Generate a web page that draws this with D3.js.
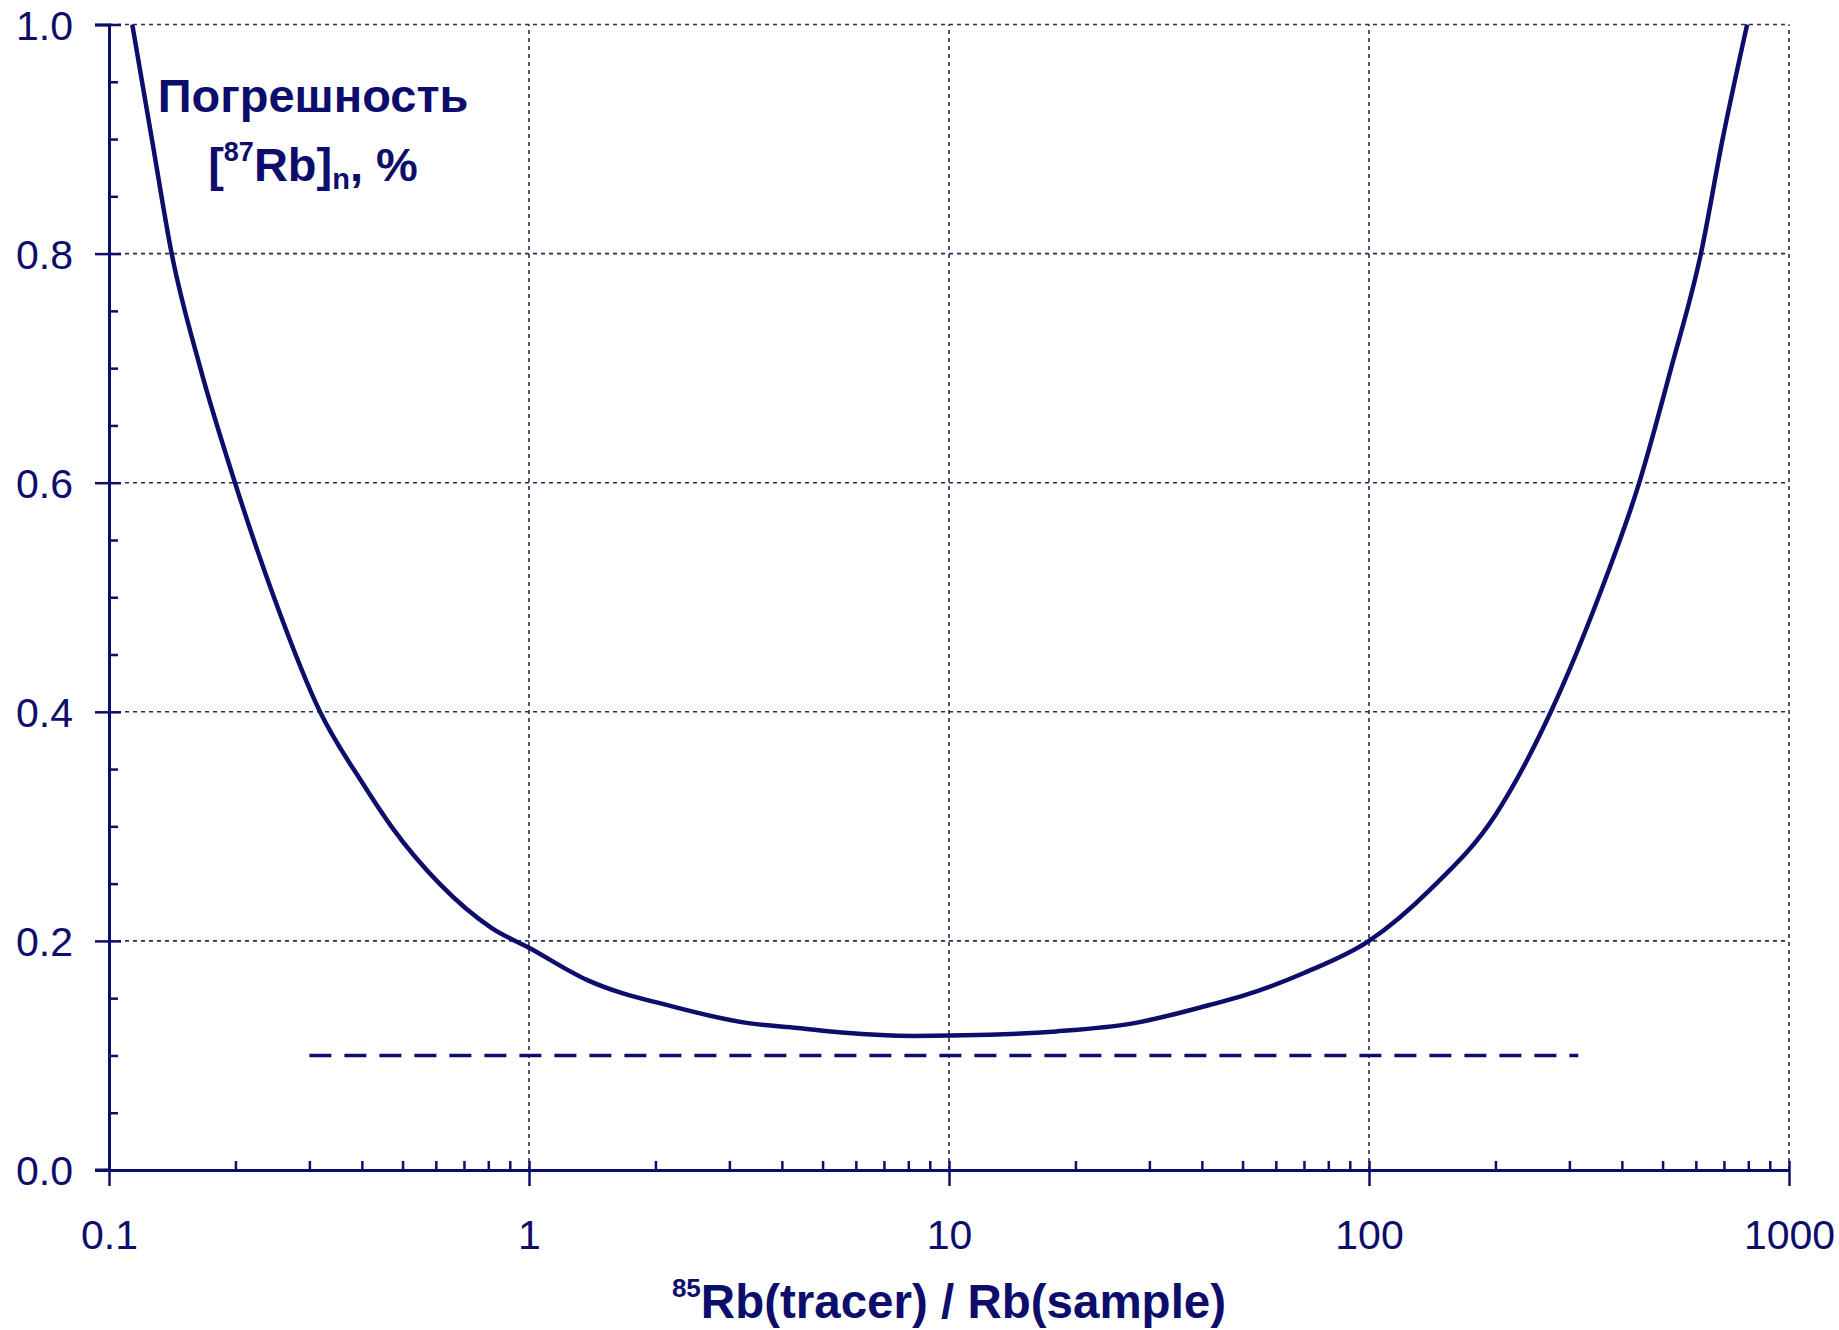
<!DOCTYPE html>
<html>
<head>
<meta charset="utf-8">
<script src="https://cdn.jsdelivr.net/npm/d3@7"></script>
<style>
  html, body { margin: 0; padding: 0; background: #ffffff; }
  svg { display: block; }
  text { font-family: "Liberation Sans", Arial, sans-serif; }
</style>
</head>
<body>
<svg id="chart" width="1839" height="1330"></svg>
<script>
// ---- data ----
const ratioX = [0.1136, 0.1265, 0.141, 0.165, 0.1995, 0.247, 0.318, 0.401, 0.47, 0.612, 0.817, 1.0,
  1.373, 2.18, 3.36, 4.36, 5.56, 8.22, 12.5, 18, 27.4, 41.7, 50, 70, 100, 140, 200, 271,
  352, 440, 524, 617, 695, 795];
const errorY = [1.0, 0.9, 0.8, 0.7, 0.6, 0.5, 0.4, 0.338, 0.3, 0.25, 0.211, 0.194,
  0.166, 0.143, 0.128, 0.124, 0.12, 0.117, 0.118, 0.121, 0.128, 0.144, 0.152, 0.172, 0.2, 0.245, 0.31, 0.4,
  0.5, 0.6, 0.7, 0.8, 0.9, 1.0];
const limitX = [0.3, 315];
const limitY = [0.1, 0.1];
const xTickValues = [0.1, 1, 10, 100, 1000];
const xTickLabels = ["0.1", "1", "10", "100", "1000"];
const yTickValues = [0.0, 0.2, 0.4, 0.6, 0.8, 1.0];
const yTickLabels = ["0.0", "0.2", "0.4", "0.6", "0.8", "1.0"];
const yMinorValues = [0.05, 0.1, 0.15, 0.25, 0.3, 0.35, 0.45, 0.5, 0.55, 0.65, 0.7, 0.75, 0.85, 0.9, 0.95];
const xMinorValues = [];
[0.1, 1, 10, 100].forEach(d => { for (let k = 2; k <= 9; k++) xMinorValues.push(+(d * k).toPrecision(3)); });
const xTitle = { sup: "85", main: "Rb(tracer) / Rb(sample)" };
const noteLine1 = "Погрешность";
const noteLine2 = { open: "[", sup: "87", main: "Rb]", sub: "n", tail: ", %" };

// ---- layout ----
const ink = "#0d0d6b";
const margin = { left: 109, right: 50, top: 24.5, bottom: 160 };
const W = 1839, H = 1330;
const svg = d3.select("#chart");

const x = d3.scaleLog().domain([0.1, 1000]).range([margin.left, W - margin.right]);
const y = d3.scaleLinear().domain([0, 1]).range([H - margin.bottom, margin.top]);

// grid
const grid = svg.append("g").attr("stroke", "#2a2a55").attr("stroke-width", 1.6)
  .attr("stroke-dasharray", "4,4");
grid.selectAll("line.h").data(yTickValues.filter(d => d > 0)).join("line")
  .attr("x1", x(0.1)).attr("x2", x(1000)).attr("y1", d => y(d)).attr("y2", d => y(d));
grid.selectAll("line.v").data(xTickValues.filter(d => d > 0.1)).join("line")
  .attr("y1", y(0)).attr("y2", y(1)).attr("x1", d => x(d)).attr("x2", d => x(d));

// axes
function styleAxis(g) {
  g.select(".domain").attr("stroke", ink).attr("stroke-width", 3);
  g.selectAll(".tick line").attr("stroke", ink).attr("stroke-width", 2.5);
  g.selectAll(".tick text").attr("fill", ink).style("font-size", "41px")
    .style("font-family", "'Liberation Sans', Arial, sans-serif");
}
// y axis
svg.append("g").attr("transform", `translate(${x(0.1)},0)`)
  .call(d3.axisLeft(y).tickValues(yTickValues).tickSize(14).tickPadding(22)
    .tickFormat((d, i) => yTickLabels[i]))
  .call(styleAxis)
  .call(g => g.selectAll(".tick text").attr("dy", "0.36em"));
svg.append("g").attr("transform", `translate(${x(0.1)},0)`)
  .call(d3.axisRight(y).tickValues(yTickValues).tickSize(12).tickSizeOuter(0).tickFormat(""))
  .call(styleAxis).call(g => g.select(".domain").remove());
svg.append("g").attr("transform", `translate(${x(0.1)},0)`)
  .call(d3.axisRight(y).tickValues(yMinorValues).tickSize(9).tickSizeOuter(0).tickFormat(""))
  .call(styleAxis).call(g => g.select(".domain").remove());
// x axis
svg.append("g").attr("transform", `translate(0,${y(0)})`)
  .call(d3.axisBottom(x).tickValues(xTickValues).tickSize(16).tickSizeOuter(0).tickPadding(34)
    .tickFormat((d, i) => xTickLabels[i]))
  .call(styleAxis);
svg.append("g").attr("transform", `translate(0,${y(0)})`)
  .call(d3.axisTop(x).tickValues(xMinorValues).tickSize(9).tickSizeOuter(0).tickFormat(""))
  .call(styleAxis).call(g => g.select(".domain").remove());
svg.append("g").attr("transform", `translate(0,${y(0)})`)
  .call(d3.axisTop(x).tickValues(xTickValues).tickSize(9).tickSizeOuter(0).tickFormat(""))
  .call(styleAxis).call(g => g.select(".domain").remove());
// extend x axis line to the left past y axis (0.0 tick)
svg.append("line").attr("x1", x(0.1) - 14).attr("x2", x(0.1))
  .attr("y1", y(0)).attr("y2", y(0)).attr("stroke", ink).attr("stroke-width", 3);

// reference dashed line
const pts = ratioX.map((d, i) => [d, errorY[i]]);
const limitPts = limitX.map((d, i) => [d, limitY[i]]);
svg.append("path").datum(limitPts)
  .attr("d", d3.line().x(d => x(d[0])).y(d => y(d[1])))
  .attr("fill", "none").attr("stroke", ink).attr("stroke-width", 3.5)
  .attr("stroke-dasharray", "22,13");

// curve
svg.append("path").datum(pts)
  .attr("d", d3.line().x(d => x(d[0])).y(d => y(d[1])).curve(d3.curveMonotoneX))
  .attr("fill", "none").attr("stroke", ink).attr("stroke-width", 4.5)
  .attr("stroke-linejoin", "round");

// annotation
const noteX = 313;
svg.append("text").attr("x", noteX).attr("y", 112).attr("text-anchor", "middle")
  .attr("fill", ink).style("font-size", "47px").style("font-weight", "bold").text(noteLine1);
const t2 = svg.append("text").attr("x", noteX).attr("y", 181).attr("text-anchor", "middle")
  .attr("fill", ink).style("font-size", "47px").style("font-weight", "bold");
t2.append("tspan").text(noteLine2.open);
t2.append("tspan").attr("dy", -20).style("font-size", "27px").text(noteLine2.sup);
t2.append("tspan").attr("dy", 20).text(noteLine2.main);
t2.append("tspan").attr("dy", 8).style("font-size", "29px").text(noteLine2.sub);
t2.append("tspan").attr("dy", -8).text(noteLine2.tail);

// x title
const tt = svg.append("text").attr("x", (x(0.1) + x(1000)) / 2).attr("y", 1318).attr("text-anchor", "middle")
  .attr("fill", ink).style("font-size", "47.5px").style("font-weight", "bold");
tt.append("tspan").attr("dy", -21).style("font-size", "26px").text(xTitle.sup);
tt.append("tspan").attr("dy", 21).text(xTitle.main);
</script>
</body>
</html>
